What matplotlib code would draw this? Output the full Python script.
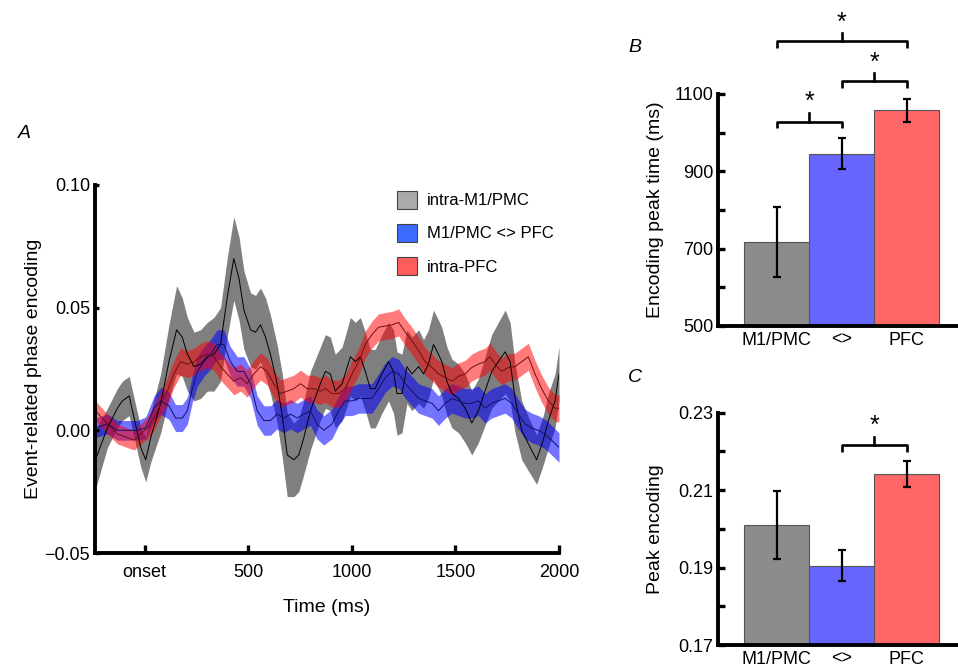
import numpy as np
import matplotlib
matplotlib.use("Agg")
import matplotlib.pyplot as plt
from matplotlib.patches import Patch
from matplotlib.ticker import MultipleLocator

plt.rcParams['font.family'] = ['Liberation Sans', 'DejaVu Sans']

# ---- panel A: time courses (ms, encoding) ----
t_intra_m1 = [-238, -180, -132, -108, -75, -51, -19, 5, 29, 77,
              117, 154, 181, 206, 238, 270, 302, 334, 366, 398,
              430, 455, 479, 511, 535, 559, 583, 607, 639, 664,
              688, 720, 744, 768, 800, 848,
              872, 896, 920, 953, 993, 1017, 1041, 1065, 1089, 1113,
              1145, 1177, 1201, 1218, 1242, 1266, 1290, 1322, 1346, 1370,
              1394, 1418, 1434, 1459, 1483, 1515, 1547, 1579, 1611, 1643,
              1675, 1707, 1740, 1764, 1788, 1820, 1852, 1892, 1924, 1949,
              1981, 2000]
m_intra_m1 = [-0.012, 0.001, 0.009, 0.012, 0.014, 0.005, -0.007, -0.012, -0.003, 0.011,
              0.028, 0.041, 0.038, 0.031, 0.026, 0.027, 0.030, 0.031, 0.035, 0.054,
              0.070, 0.062, 0.049, 0.041, 0.040, 0.043, 0.038, 0.031, 0.019, 0.006,
              -0.010, -0.012, -0.010, -0.003, 0.008, 0.019,
              0.024, 0.023, 0.016, 0.019, 0.030, 0.028, 0.030, 0.024, 0.017, 0.017,
              0.023, 0.028, 0.024, 0.015, 0.015, 0.026, 0.023, 0.026, 0.023, 0.027,
              0.035, 0.031, 0.028, 0.020, 0.015, 0.013, 0.009, 0.003, 0.008, 0.016,
              0.024, 0.028, 0.032, 0.028, 0.013, 0.000, -0.0055, -0.012, -0.004, 0.004,
              0.012, 0.023]
s_intra_m1 = [0.012, 0.008, 0.008, 0.008, 0.008, 0.008, 0.008, 0.009, 0.010, 0.012,
              0.015, 0.018, 0.016, 0.015, 0.014, 0.014, 0.014, 0.015, 0.015, 0.016,
              0.017, 0.017, 0.016, 0.015, 0.015, 0.015, 0.016, 0.016, 0.016, 0.017,
              0.017, 0.015, 0.015, 0.015, 0.016, 0.015,
              0.015, 0.015, 0.015, 0.015, 0.016, 0.016, 0.016, 0.016, 0.016, 0.016,
              0.016, 0.016, 0.017, 0.017, 0.016, 0.015, 0.015, 0.015, 0.014, 0.014,
              0.014, 0.014, 0.014, 0.014, 0.014, 0.014, 0.014, 0.013, 0.013, 0.014,
              0.015, 0.016, 0.017, 0.016, 0.014, 0.012, 0.011, 0.010, 0.010, 0.011,
              0.011, 0.011]

t_inter = [-238, -180, -132, -84, -35, 5, 45, 77, 117, 149,
           181, 206, 230, 254, 286, 318, 350, 382, 414, 447,
           479, 511, 543, 575, 607, 639, 671, 704, 736, 768,
           800, 832, 864,
           904, 936, 968, 1001, 1033, 1065, 1097, 1129, 1161, 1194,
           1226, 1258, 1290, 1322, 1354, 1387, 1418, 1451, 1483, 1515,
           1547, 1579, 1611, 1643, 1675, 1707, 1740, 1772, 1804, 1836,
           1868, 1900, 1932, 1964, 2000]
m_inter = [0.001, 0.0026, 0.000, 0.000, 0.000, 0.001, 0.009, 0.012, 0.010, 0.005,
           0.005, 0.008, 0.017, 0.024, 0.028, 0.031, 0.035, 0.035, 0.028, 0.024,
           0.024, 0.019, 0.008, 0.004, 0.004, 0.0066, 0.005, 0.0066, 0.005, 0.0066,
           0.008, 0.0025, 0.000,
           0.0026, 0.008, 0.012, 0.012, 0.013, 0.013, 0.013, 0.017, 0.0215, 0.024,
           0.023, 0.019, 0.016, 0.013, 0.012, 0.011, 0.008, 0.011, 0.013, 0.012,
           0.011, 0.011, 0.012, 0.009, 0.011, 0.012, 0.013, 0.011, 0.0066, 0.0026,
           0.001, 0.000, -0.0015, -0.004, -0.007]
s_inter = [0.004, 0.004, 0.004, 0.004, 0.004, 0.0045, 0.005, 0.0055, 0.0055, 0.0055,
           0.0055, 0.0055, 0.0055, 0.006, 0.006, 0.006, 0.006, 0.006, 0.006, 0.006,
           0.006, 0.006, 0.006, 0.006, 0.006, 0.006, 0.006, 0.006, 0.006, 0.006,
           0.006, 0.006, 0.006,
           0.006, 0.006, 0.006, 0.006, 0.006, 0.006, 0.006, 0.006, 0.006, 0.006,
           0.006, 0.006, 0.006, 0.006, 0.006, 0.006, 0.006, 0.006, 0.006, 0.006,
           0.006, 0.006, 0.006, 0.006, 0.006, 0.006, 0.006, 0.006, 0.006, 0.006,
           0.006, 0.006, 0.006, 0.006, 0.006]

t_intra_pfc = [-238, -180, -132, -84, -51, -19, 13, 45, 77, 109,
               141, 173, 206, 238, 270, 302, 334, 366, 398, 430,
               463, 495, 527, 559, 591, 623, 655, 688, 720, 752,
               784, 816, 848,
               872, 904, 936, 968, 1001, 1033, 1065, 1097, 1129, 1161,
               1194, 1226, 1258, 1290, 1322, 1354, 1387, 1418, 1451, 1483,
               1515, 1547, 1579, 1611, 1643, 1667, 1691, 1723, 1756, 1788,
               1820, 1852, 1884, 1916, 1949, 1981, 2000]
m_intra_pfc = [0.008, 0.0026, -0.0015, -0.003, -0.004, -0.0015, 0.001, 0.005, 0.0106, 0.016,
               0.023, 0.028, 0.027, 0.028, 0.030, 0.031, 0.030, 0.026, 0.023, 0.020,
               0.0215, 0.019, 0.023, 0.026, 0.024, 0.019, 0.015, 0.016, 0.017, 0.019,
               0.017, 0.017, 0.016,
               0.017, 0.015, 0.015, 0.017, 0.023, 0.028, 0.035, 0.039, 0.042, 0.0425,
               0.043, 0.044, 0.040, 0.0365, 0.0325, 0.028, 0.0256, 0.023, 0.0215, 0.020,
               0.022, 0.023, 0.0256, 0.027, 0.028, 0.030, 0.027, 0.024, 0.0256, 0.026,
               0.028, 0.030, 0.023, 0.017, 0.012, 0.009, 0.009]
s_intra_pfc = [0.004, 0.004, 0.004, 0.004, 0.004, 0.004, 0.0045, 0.005, 0.005, 0.0055,
               0.0055, 0.0055, 0.0055, 0.0055, 0.0055, 0.0055, 0.0055, 0.0055, 0.0055, 0.0055,
               0.0055, 0.0055, 0.0055, 0.0055, 0.0055, 0.0055, 0.0055, 0.0055, 0.0055, 0.0055,
               0.0055, 0.0055, 0.0055,
               0.0055, 0.0055, 0.0055, 0.0055, 0.0055, 0.0055, 0.0055, 0.0055, 0.0055, 0.0055,
               0.0055, 0.0055, 0.0055, 0.0055, 0.0055, 0.0055, 0.0055, 0.0055, 0.0055, 0.0055,
               0.0055, 0.0055, 0.0055, 0.0055, 0.0055, 0.0055, 0.0055, 0.0055, 0.0055, 0.0055,
               0.0055, 0.0055, 0.0055, 0.0055, 0.0055, 0.0055, 0.0055]

legend_labels = ['intra-M1/PMC', 'M1/PMC <> PFC', 'intra-PFC']

# ---- panels B and C: bar summaries ----
bar_labels = ['M1/PMC', '<>', 'PFC']
peak_time = [718, 945, 1058]
peak_time_err = [90, 40, 30]
peak_enc = [0.201, 0.1905, 0.2142]
peak_enc_err = [0.0087, 0.004, 0.0034]

bar_colors = ['#8c8c8c', '#6666ff', '#ff6666']
patch_colors = ['#aaaaaa', '#3d6bff', '#ff5c5c']

W, H = 958, 671
fig = plt.figure(figsize=(W / 100, H / 100), dpi=100)


def style_axes(ax):
    for s in ['top', 'right']:
        ax.spines[s].set_visible(False)
    for s in ['left', 'bottom']:
        ax.spines[s].set_linewidth(2.8)
    ax.tick_params(which='both', direction='in', width=2.4, labelsize=13)


def bracket(ax, x0, x1, y, drop, pip, star_y):
    xm = (x0 + x1) / 2
    ax.plot([x0, x0, x1, x1], [y - drop, y, y, y - drop], color='black', lw=1.9,
            clip_on=False, solid_capstyle='butt')
    ax.plot([xm, xm], [y, y + pip], color='black', lw=1.9, clip_on=False)
    ax.text(xm, star_y, '*', ha='center', va='center', fontsize=18, clip_on=False)


# panel A
axA = fig.add_axes([95 / W, 118 / H, 464 / W, 368 / H])
style_axes(axA)
series = [(t_intra_m1, m_intra_m1, s_intra_m1, '#7f7f7f', 1.0, 'black'),
          (t_inter, m_inter, s_inter, '#0000ff', 0.55, '#10106a'),
          (t_intra_pfc, m_intra_pfc, s_intra_pfc, '#ff0000', 0.52, '#701010')]
for t, m, s, c, a, lc in series:
    t = np.array(t)
    m = np.array(m)
    s = np.array(s)
    axA.fill_between(t, m - s, m + s, color=c, alpha=a, lw=0)
for t, m, s, c, a, lc in series:
    axA.plot(t, m, color=lc, lw=0.7)

axA.set_xlim(-240, 2000)
axA.set_ylim(-0.05, 0.10)
axA.set_xticks([0, 500, 1000, 1500, 2000])
axA.set_xticklabels(['onset', '500', '1000', '1500', '2000'])
axA.set_yticks([-0.05, 0.0, 0.05, 0.10])
axA.set_yticklabels(['\u22120.05', '0.00', '0.05', '0.10'])
axA.tick_params(axis='x', length=6, pad=8)
axA.tick_params(axis='y', length=3)
axA.set_xlabel('Time (ms)', fontsize=14)
axA.set_ylabel('Event-related phase encoding', fontsize=14)
axA.xaxis.set_label_coords(0.5, -0.125)
axA.yaxis.set_label_coords(-0.115, 0.5)

handles = [Patch(facecolor=c, edgecolor='#444444', lw=0.8) for c in patch_colors]
axA.legend(handles, legend_labels, loc='upper left', bbox_to_anchor=(0.65, 0.985),
           frameon=False, fontsize=12, handlelength=1.2, handleheight=1.3,
           labelspacing=0.9, borderpad=0, borderaxespad=0, handletextpad=0.6)

# panel B
axB = fig.add_axes([718 / W, 345 / H, 245 / W, 232 / H])
style_axes(axB)
xb = np.arange(len(bar_labels))
axB.bar(xb, peak_time, width=1.0, color=bar_colors, edgecolor='#555555', lw=0.8)
axB.errorbar(xb, peak_time, yerr=peak_time_err, fmt='none', ecolor='black',
             elinewidth=1.6, capsize=3, capthick=1.6)
axB.set_xlim(-0.9, -0.9 + 245 / 65)
axB.set_ylim(500, 1100)
axB.set_yticks([500, 700, 900, 1100])
axB.yaxis.set_minor_locator(MultipleLocator(100))
axB.tick_params(axis='y', which='both', length=5)
axB.set_xticks(xb)
axB.set_xticklabels(bar_labels)
axB.tick_params(axis='x', length=0, pad=4)
axB.set_ylabel('Encoding peak time (ms)', fontsize=14)
axB.yaxis.set_label_coords(-0.22, 0.5)
bracket(axB, 0, 1, 1028, 16, 22, 1080)
bracket(axB, 1, 2, 1134, 19, 21, 1180)
bracket(axB, 0, 2, 1238, 18, 21, 1284)

# panel C
axC = fig.add_axes([718 / W, 26 / H, 245 / W, 232.3 / H])
style_axes(axC)
axC.bar(xb, peak_enc, width=1.0, color=bar_colors, edgecolor='#555555', lw=0.8)
axC.errorbar(xb, peak_enc, yerr=peak_enc_err, fmt='none', ecolor='black',
             elinewidth=1.6, capsize=3, capthick=1.6)
axC.set_xlim(-0.9, -0.9 + 245 / 65)
axC.set_ylim(0.17, 0.23)
axC.set_yticks([0.17, 0.19, 0.21, 0.23])
axC.set_yticklabels(['0.17', '0.19', '0.21', '0.23'])
axC.yaxis.set_minor_locator(MultipleLocator(0.01))
axC.tick_params(axis='y', which='both', length=5)
axC.set_xticks(xb)
axC.set_xticklabels(bar_labels)
axC.tick_params(axis='x', length=0, pad=4)
axC.set_ylabel('Peak encoding', fontsize=14)
axC.yaxis.set_label_coords(-0.22, 0.5)
bracket(axC, 1, 2, 0.2217, 0.0018, 0.0019, 0.2265)

# panel letters
for lab, x, y in [('A', 18, 133), ('B', 628, 47), ('C', 628, 377)]:
    fig.text(x / W, 1 - y / H, lab, fontsize=14, style='italic', ha='left', va='center')

fig.savefig('out.png', dpi=100)
